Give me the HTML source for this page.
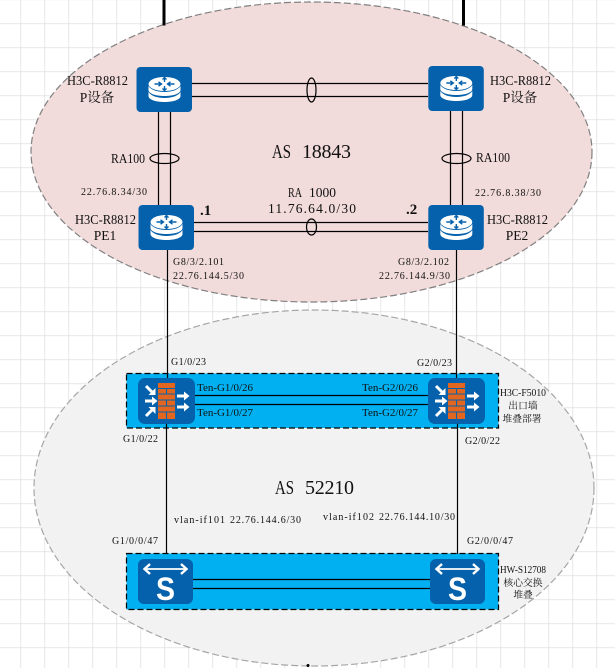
<!DOCTYPE html>
<html><head><meta charset="utf-8"><style>
html,body{margin:0;padding:0;background:#fff;width:615px;height:668px;overflow:hidden}
svg{display:block}
text{font-family:"Liberation Serif","Noto Serif CJK SC",serif;fill:#111}
.m{font-size:13.5px}.s{font-size:10px}.l{font-size:20px}.z{font-size:9.8px}
.c{text-anchor:middle}
</style></head><body>
<svg width="615" height="668" viewBox="0 0 615 668" xmlns="http://www.w3.org/2000/svg">
<defs>
<pattern id="g" x="20.5" y="23.5" width="24" height="24" patternUnits="userSpaceOnUse">
<path d="M0 0H24M0 0V24" stroke="#dadada" stroke-width="1.3" fill="none"/>
</pattern>
<g id="r">
<rect width="55.5" height="45" rx="4" fill="#0561ab"/>
<path d="M12 19v4c0 3.500 7 6 16 6s16-2.500 16-6v-4c-2 3.500-8 6-16 6s-14-2.500-16-6z" fill="#fff"/>
<path d="M12 25v4c0 3.500 7 6 16 6s16-2.500 16-6v-4c-2 3.500-8 6-16 6s-14-2.500-16-6z" fill="#fff"/>
<ellipse cx="28" cy="17" rx="16" ry="7" fill="#fff"/>
<path d="M18 17h7M22 14.800l3 2.200-3 2.200M38 17h-7M34 14.800l-3 2.200 3 2.200M28 11v4M26 12.500l2-2 2 2M28 23v-4M26 21.500l2 2 2-2" stroke="#0561ab" stroke-width="1.400" fill="none"/>
</g>
<g id="f">
<rect width="57" height="46" rx="7" fill="#0561ab"/>
<rect x="20" y="5" width="17" height="36" fill="#e2661f"/>
<path d="M20 10.500H37M20 16H37M20 22H37M20 28H37M20 34H37M28.500 10.500V16M28.500 22V28M28.500 34V41" stroke="#0561ab" stroke-width="1.100" fill="none"/>
<g stroke="#fff" stroke-width="3" fill="#fff">
<path d="M8 8l6 6" /><path d="M10.500 17h7v-7z" stroke-width="0"/>
<path d="M7 23h8"/><path d="M14 18.500l5.500 4.500-5.500 4.500z" stroke-width="0"/>
<path d="M8 38l6-6"/><path d="M10.500 29h7v7z" stroke-width="0"/>
<path d="M39 18h8"/><path d="M46 13.500l5.500 4.500-5.500 4.500z" stroke-width="0"/>
<path d="M39 29h8"/><path d="M46 24.500l5.500 4.500-5.500 4.500z" stroke-width="0"/>
</g>
</g>
<g id="w">
<rect width="55" height="45" rx="6" fill="#0561ab"/>
<path d="M8 10H47" stroke="#fff" stroke-width="1.800"/>
<path d="M12 5L6.500 10l5.500 5M43 5l5.500 5-5.500 5" stroke="#fff" stroke-width="2.400" fill="none"/>
<text x="18" y="41" textLength="19" lengthAdjust="spacingAndGlyphs" style="font-family:'Liberation Sans',sans-serif;font-size:32px;font-weight:bold;fill:#fff">S</text>
</g>
</defs>
<rect width="615" height="668" fill="#fff"/>
<rect width="615" height="668" fill="url(#g)"/>
<ellipse cx="311.500" cy="152" rx="280.500" ry="150" fill="#f2dcdb" stroke="#808080" stroke-width="1.200" stroke-dasharray="7 3"/>
<ellipse cx="314" cy="488" rx="280" ry="178" fill="#f2f2f2" stroke="#a6a6a6" stroke-width="1.200" stroke-dasharray="7 3"/>
<circle cx="308" cy="665.500" r="1.500" fill="#000"/>
<path d="M164 0V25.500M463.500 0V25.500" stroke="#000" stroke-width="3" fill="none"/>
<rect x="126.500" y="373.500" width="372" height="54.500" fill="#00b0f0" stroke="#000" stroke-width="1.200" stroke-dasharray="6 3"/>
<rect x="126.500" y="553.500" width="372" height="56" fill="#00b0f0" stroke="#000" stroke-width="1.200" stroke-dasharray="6 3"/>
<g stroke="#000" stroke-width="1.200" fill="none">
<path d="M192 83.500H428M192 96.500H428M194 222.500H428M194 231.500H428"/>
<path d="M158.500 112V205M170.500 112V205M450.500 111V205M462.500 111V205"/>
<path d="M167.500 250V378M166.500 424V554M456.500 250V378M457.500 424V554"/>
<path d="M195 395.500H428M195 404.500H428M193 579.500H430M193 588.500H430"/>
<ellipse cx="311.500" cy="90" rx="4.500" ry="12"/>
<ellipse cx="311.500" cy="227" rx="5" ry="8"/>
<ellipse cx="164.500" cy="158.500" rx="14.500" ry="5"/>
<ellipse cx="456.500" cy="158.500" rx="14.500" ry="5"/>
</g>
<use href="#r" x="136.500" y="67"/>
<use href="#r" x="428.300" y="66"/>
<use href="#r" x="138.500" y="205"/>
<use href="#r" x="428.300" y="205"/>
<use href="#f" x="138" y="378"/>
<use href="#f" x="428" y="378"/>
<use href="#w" x="138" y="559"/>
<use href="#w" x="430" y="559"/>

<text class="m" x="67" y="85" textLength="61" lengthAdjust="spacingAndGlyphs">H3C-R8812</text>
<text class="m c" x="97" y="102">P设备</text>
<text class="m" x="75" y="224" textLength="61" lengthAdjust="spacingAndGlyphs">H3C-R8812</text>
<text class="m c" x="105" y="240">PE1</text>
<text class="m" x="111" y="163" textLength="34" lengthAdjust="spacingAndGlyphs">RA100</text>
<text class="s" x="81" y="195" textLength="66">22.76.8.34/30</text>
<text x="200" y="215" style="font-size:15px;font-weight:bold">.1</text>
<text class="m" x="288" y="197" textLength="14" lengthAdjust="spacingAndGlyphs">RA</text>
<text class="m" x="309" y="197" textLength="27">1000</text>
<text class="m" x="268" y="213" textLength="88">11.76.64.0/30</text>
<text class="l" x="272" y="158" textLength="19" lengthAdjust="spacingAndGlyphs">AS</text>
<text class="l" x="302" y="158" textLength="49">18843</text>
<text class="s" x="173" y="265" textLength="51">G8/3/2.101</text>
<text class="s" x="173" y="279" textLength="71">22.76.144.5/30</text>
<text class="m" x="490" y="85" textLength="61" lengthAdjust="spacingAndGlyphs">H3C-R8812</text>
<text class="m c" x="520" y="102">P设备</text>
<text class="m" x="476" y="162" textLength="34" lengthAdjust="spacingAndGlyphs">RA100</text>
<text class="s" x="475" y="196" textLength="66">22.76.8.38/30</text>
<text x="406" y="214" style="font-size:15px;font-weight:bold">.2</text>
<text class="m" x="487" y="224" textLength="61" lengthAdjust="spacingAndGlyphs">H3C-R8812</text>
<text class="m c" x="517" y="240">PE2</text>
<text class="s" x="398" y="265" textLength="51">G8/3/2.102</text>
<text class="s" x="379" y="279" textLength="71">22.76.144.9/30</text>
<text class="s" x="171" y="365" textLength="35">G1/0/23</text>
<text class="s" x="417" y="366" textLength="35">G2/0/23</text>
<text class="s" x="197" y="391" textLength="56" lengthAdjust="spacingAndGlyphs">Ten-G1/0/26</text>
<text class="s" x="197" y="416" textLength="56" lengthAdjust="spacingAndGlyphs">Ten-G1/0/27</text>
<text class="s" x="362" y="391" textLength="56" lengthAdjust="spacingAndGlyphs">Ten-G2/0/26</text>
<text class="s" x="362" y="416" textLength="56" lengthAdjust="spacingAndGlyphs">Ten-G2/0/27</text>
<text class="s" x="123" y="442" textLength="35">G1/0/22</text>
<text class="s" x="465" y="444" textLength="35">G2/0/22</text>
<text class="s" x="500" y="396" textLength="46" lengthAdjust="spacingAndGlyphs">H3C-F5010</text>
<text class="z c" x="523" y="409">出口墙</text>
<text class="z c" x="522" y="422">堆叠部署</text>
<text class="l" x="275" y="494" textLength="19" lengthAdjust="spacingAndGlyphs">AS</text>
<text class="l" x="305" y="494" textLength="49">52210</text>
<text class="s" x="174" y="523" textLength="51">vlan-if101</text>
<text class="s" x="230" y="523" textLength="71">22.76.144.6/30</text>
<text class="s" x="323" y="520" textLength="51">vlan-if102</text>
<text class="s" x="379" y="520" textLength="76">22.76.144.10/30</text>
<text class="s" x="112" y="544" textLength="46">G1/0/0/47</text>
<text class="s" x="467" y="544" textLength="46">G2/0/0/47</text>
<text class="s" x="500" y="573" textLength="46" lengthAdjust="spacingAndGlyphs">HW-S12708</text>
<text class="z c" x="523" y="586">核心交换</text>
<text class="z c" x="523" y="598">堆叠</text>
</svg>
</body></html>
